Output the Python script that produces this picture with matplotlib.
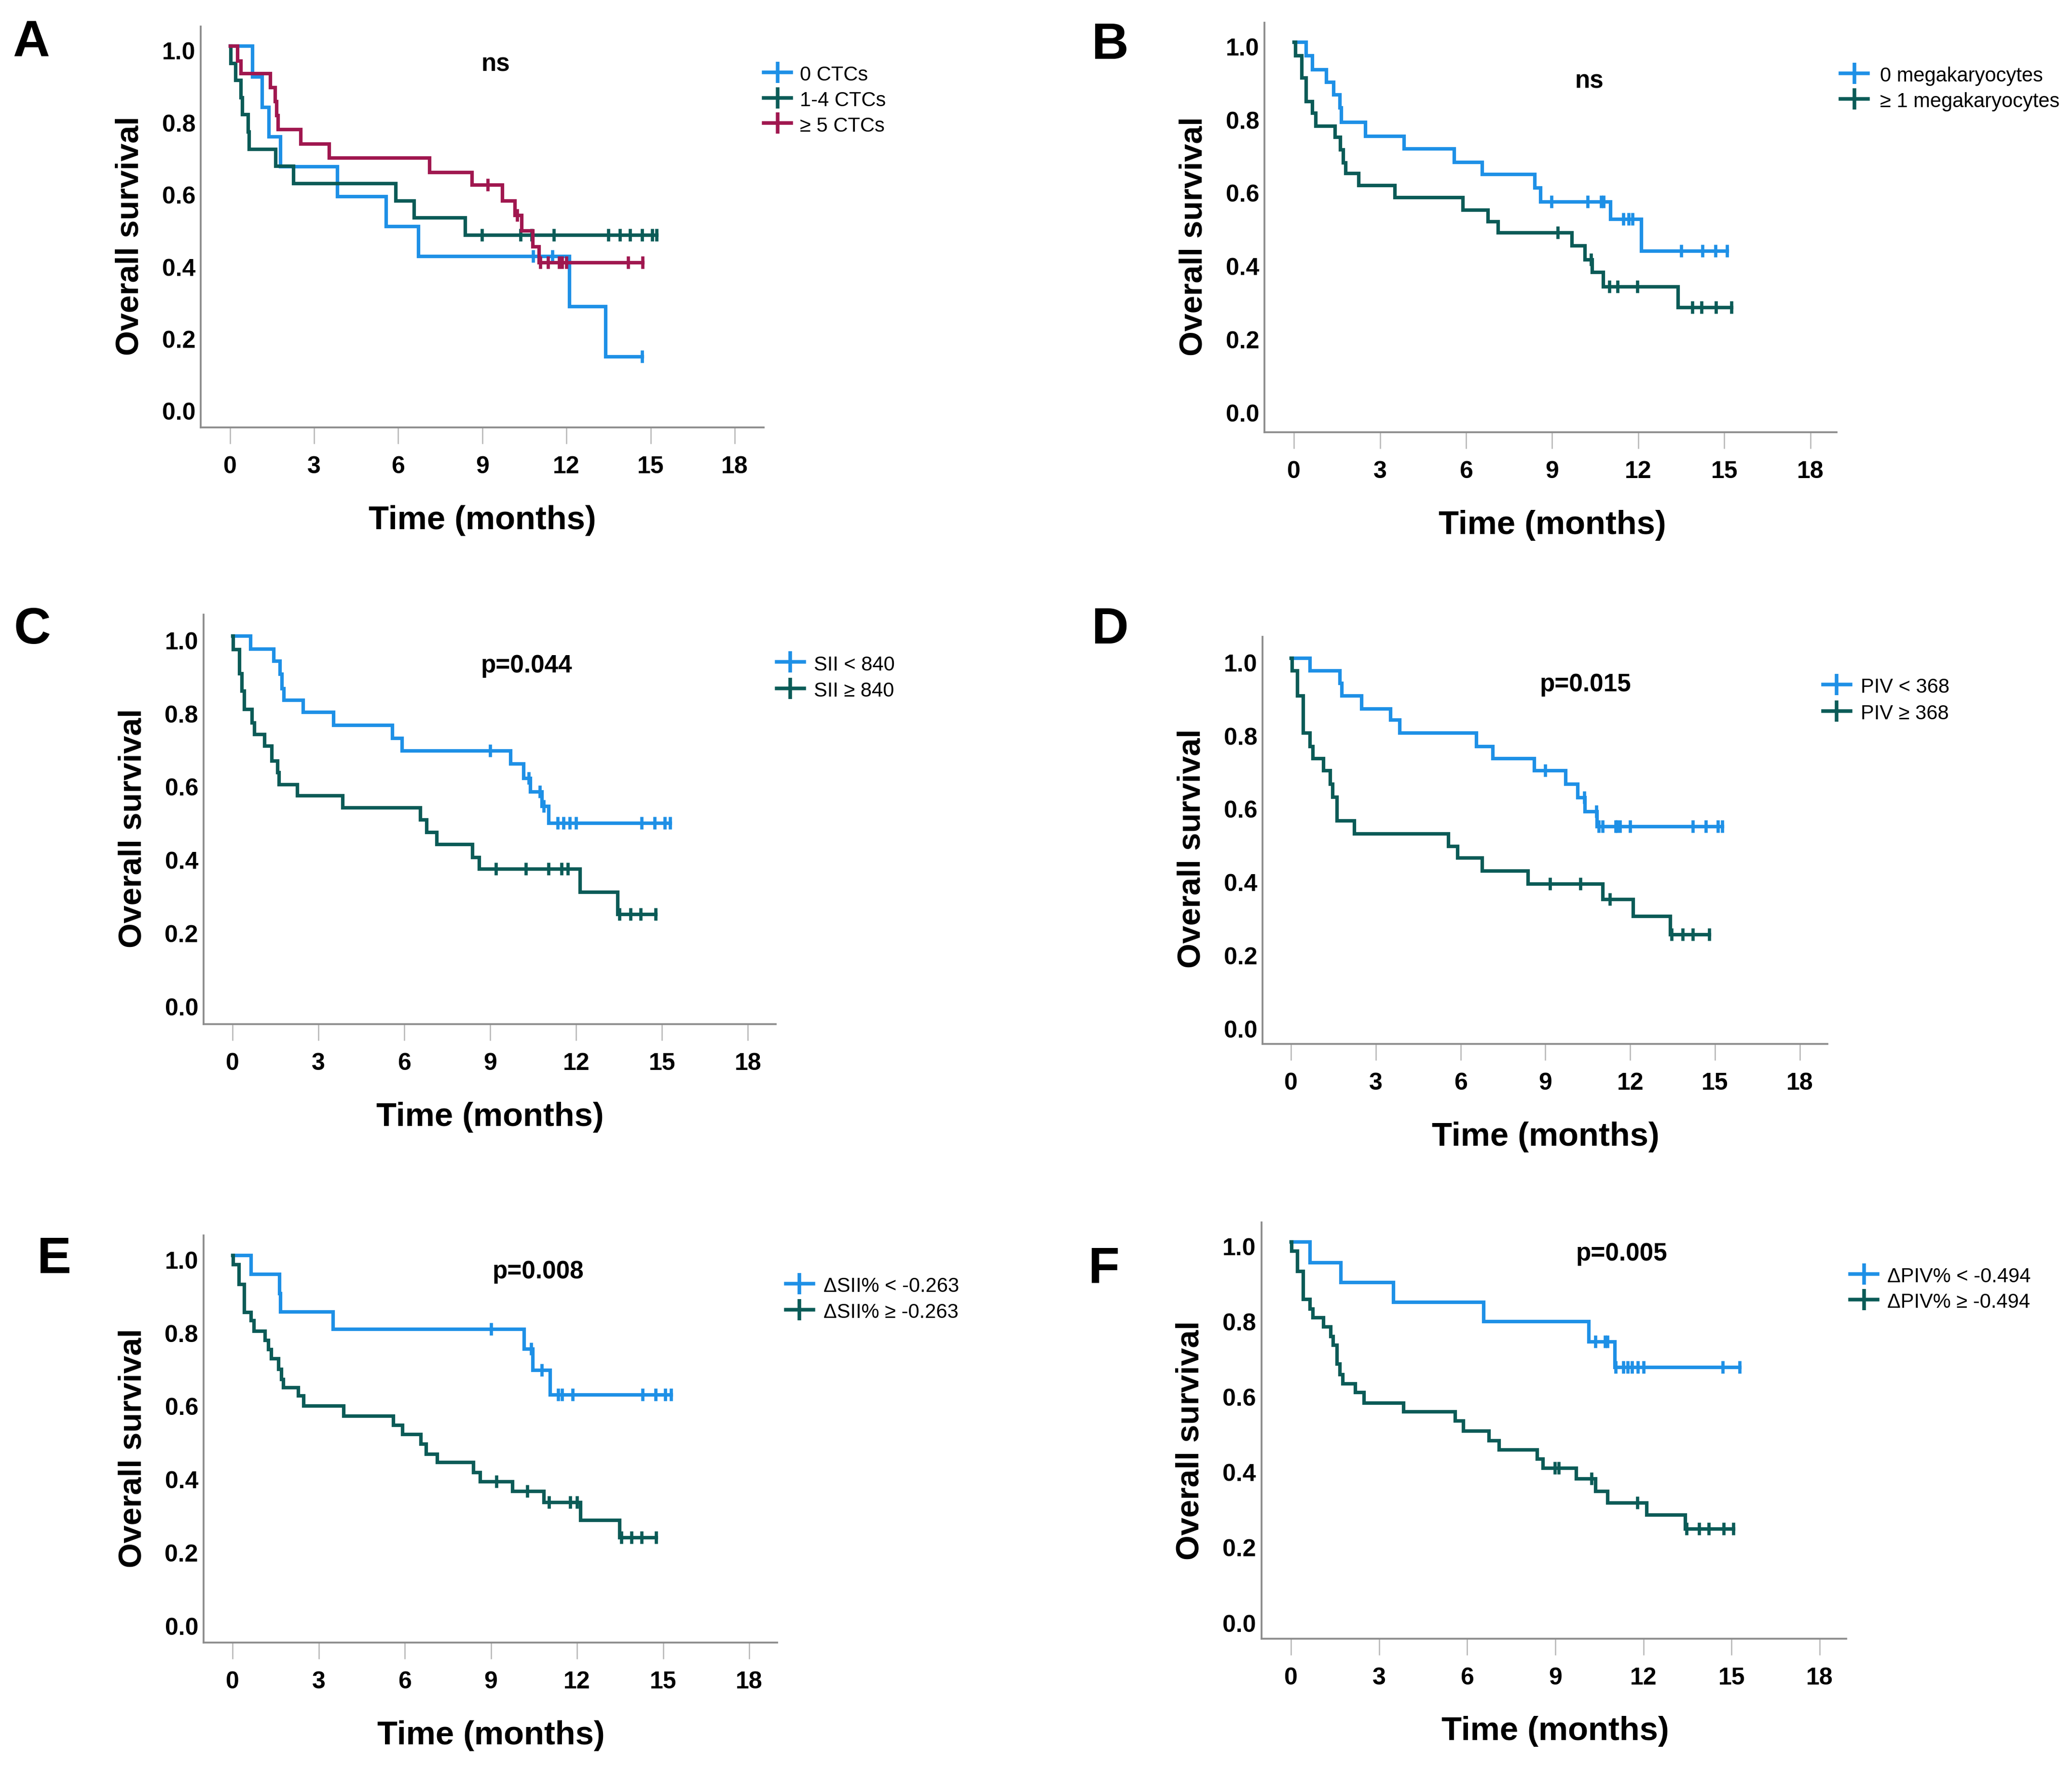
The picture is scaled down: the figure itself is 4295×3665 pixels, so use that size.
import matplotlib
matplotlib.use("Agg")
import matplotlib.pyplot as plt
from matplotlib.lines import Line2D
from matplotlib.transforms import ScaledTranslation
import numpy as np

plt.rcParams['font.family'] = ['Liberation Sans', 'DejaVu Sans']

BLUE = "#1e90e6"
TEAL = "#0b5b57"
RED = "#a0174f"

# ---- data: drop times, survival after each drop, censor times ----
# A: CTC count
a_ctc0_t = [0.79, 1.14, 1.38, 1.80, 3.83, 5.56, 6.72, 12.1, 13.39]
a_ctc0_s = [0.915, 0.83, 0.748, 0.665, 0.582, 0.50, 0.416, 0.277, 0.138]
a_ctc0_c = [10.81, 11.5, 14.7]
a_ctc14_t = [0.03, 0.2, 0.38, 0.44, 0.65, 0.68, 1.63, 2.26, 5.9, 6.56, 8.39]
a_ctc14_s = [0.952, 0.905, 0.857, 0.81, 0.762, 0.714, 0.667, 0.619, 0.571, 0.524, 0.476]
a_ctc14_c = [8.99, 10.37, 10.76, 11.55, 13.5, 13.9, 14.26, 14.7, 15.06, 15.22]
a_ctc5_t = [0.26, 0.39, 1.44, 1.6, 1.66, 1.71, 2.52, 3.53, 7.11, 8.62, 9.71, 10.16, 10.39, 10.79, 11.02]
a_ctc5_s = [0.959, 0.924, 0.885, 0.846, 0.807, 0.768, 0.728, 0.689, 0.65, 0.614, 0.571, 0.531, 0.488, 0.444, 0.399]
a_ctc5_c = [9.19, 10.24, 11.06, 11.34, 11.74, 11.84, 12.0, 14.2, 14.72]
a_labels = ["0 CTCs", "1-4 CTCs", "≥ 5 CTCs"]

# B: megakaryocytes
b_mk0_t = [0.42, 0.64, 1.13, 1.37, 1.6, 1.65, 2.48, 3.83, 5.58, 6.55, 8.39, 8.59, 11.03, 12.1]
b_mk0_s = [0.963, 0.924, 0.89, 0.856, 0.82, 0.781, 0.743, 0.709, 0.671, 0.638, 0.602, 0.564, 0.516, 0.429]
b_mk0_c = [8.97, 10.23, 10.71, 10.8, 11.48, 11.67, 11.8, 13.5, 14.24, 14.69, 15.1]
b_mk1_t = [0.04, 0.27, 0.42, 0.64, 0.75, 1.43, 1.61, 1.71, 1.8, 2.25, 3.51, 5.89, 6.75, 7.11, 9.69, 10.13, 10.39, 10.77, 13.38]
b_mk1_s = [0.963, 0.902, 0.838, 0.806, 0.77, 0.74, 0.706, 0.67, 0.641, 0.608, 0.576, 0.541, 0.509, 0.479, 0.443, 0.406, 0.371, 0.332, 0.275]
b_mk1_c = [9.19, 10.35, 10.99, 11.28, 11.97, 13.89, 14.2, 14.71, 15.24]
b_labels = ["0 megakaryocytes", "≥ 1 megakaryocytes"]

# C: SII
c_lo_t = [0.62, 1.43, 1.65, 1.72, 1.78, 2.46, 3.52, 5.58, 5.91, 9.71, 10.16, 10.4, 10.8, 11.03]
c_lo_s = [0.964, 0.931, 0.895, 0.856, 0.825, 0.791, 0.756, 0.721, 0.686, 0.651, 0.611, 0.574, 0.534, 0.489]
c_lo_c = [9.0, 10.35, 10.74, 10.86, 11.36, 11.55, 11.77, 12.0, 14.29, 14.74, 15.1, 15.28]
c_hi_t = [0.01, 0.23, 0.32, 0.40, 0.68, 0.75, 1.11, 1.37, 1.56, 1.62, 2.26, 3.84, 6.55, 6.77, 7.13, 8.38, 8.61, 12.13, 13.45]
c_hi_s = [0.963, 0.897, 0.849, 0.799, 0.763, 0.731, 0.699, 0.659, 0.627, 0.594, 0.563, 0.531, 0.497, 0.463, 0.431, 0.395, 0.363, 0.3, 0.239]
c_hi_c = [9.19, 10.25, 11.04, 11.49, 11.71, 13.51, 13.9, 14.25, 14.78]
c_labels = ["SII < 840", "SII ≥ 840"]

# D: PIV
d_lo_t = [0.67, 1.72, 1.79, 2.49, 3.51, 3.84, 6.55, 7.13, 8.6, 9.71, 10.14, 10.4, 10.82]
d_lo_s = [0.966, 0.931, 0.897, 0.861, 0.831, 0.795, 0.759, 0.725, 0.693, 0.656, 0.619, 0.581, 0.54]
d_lo_c = [8.99, 10.37, 10.8, 10.89, 11.02, 11.48, 11.54, 11.64, 12.0, 14.22, 14.67, 15.1, 15.26]
d_hi_t = [0.03, 0.22, 0.42, 0.67, 0.77, 1.14, 1.38, 1.46, 1.62, 2.23, 5.56, 5.89, 6.75, 8.37, 11.02, 12.1, 13.41]
d_hi_s = [0.966, 0.897, 0.795, 0.759, 0.725, 0.693, 0.656, 0.62, 0.556, 0.52, 0.486, 0.454, 0.418, 0.383, 0.341, 0.295, 0.245]
d_hi_c = [9.16, 10.24, 11.28, 13.47, 13.85, 14.22, 14.8]
d_labels = ["PIV < 368", "PIV ≥ 368"]

# E: delta SII%
e_lo_t = [0.64, 1.63, 1.67, 3.5, 10.15, 10.45, 11.06]
e_lo_s = [0.948, 0.896, 0.846, 0.798, 0.744, 0.686, 0.618]
e_lo_c = [9.01, 10.4, 10.77, 11.35, 11.48, 11.84, 14.29, 14.74, 15.08, 15.28]
e_hi_t = [0.02, 0.22, 0.41, 0.63, 0.73, 1.12, 1.25, 1.35, 1.6, 1.7, 1.76, 2.28, 2.47, 3.86, 5.6, 5.91,
          6.55, 6.74, 7.13, 8.39, 8.62, 9.74, 10.84, 12.12, 13.47]
e_hi_s = [0.975, 0.921, 0.844, 0.821, 0.793, 0.768, 0.743, 0.718, 0.689, 0.661, 0.639, 0.616, 0.588, 0.561,
          0.536, 0.511, 0.484, 0.457, 0.434, 0.407, 0.381, 0.355, 0.325, 0.276, 0.229]
e_hi_c = [9.2, 10.26, 11.03, 11.76, 11.99, 13.54, 13.9, 14.25, 14.76]
e_labels = ["ΔSII% < -0.263", "ΔSII% ≥ -0.263"]

# F: delta PIV%
f_lo_t = [0.64, 1.69, 3.48, 6.55, 10.14, 11.02]
f_lo_s = [0.944, 0.892, 0.84, 0.788, 0.734, 0.667]
f_lo_c = [10.36, 10.7, 10.78, 11.06, 11.31, 11.46, 11.62, 11.81, 12.0, 14.7, 15.27]
f_hi_t = [0.01, 0.21, 0.4, 0.64, 0.74, 1.09, 1.35, 1.43, 1.56, 1.65, 1.75, 2.19, 2.47, 3.82, 5.58, 5.86,
          6.74, 7.07, 8.38, 8.57, 9.71, 10.36, 10.78, 12.1, 13.42]
f_hi_s = [0.975, 0.922, 0.847, 0.822, 0.799, 0.774, 0.748, 0.725, 0.675, 0.647, 0.623, 0.6, 0.572, 0.549,
          0.524, 0.498, 0.472, 0.447, 0.423, 0.399, 0.371, 0.338, 0.306, 0.274, 0.238]
f_hi_c = [8.98, 9.11, 10.24, 11.79, 13.47, 13.89, 14.23, 14.74, 15.06]
f_labels = ["ΔPIV% < -0.494", "ΔPIV% ≥ -0.494"]

stat_texts = ["ns", "ns", "p=0.044", "p=0.015", "p=0.008", "p=0.005"]
panel_letters = ["A", "B", "C", "D", "E", "F"]
x_ticks = [0, 3, 6, 9, 12, 15, 18]
y_ticks = [0.0, 0.2, 0.4, 0.6, 0.8, 1.0]

panels = [
    ([(a_ctc0_t, a_ctc0_s, a_ctc0_c), (a_ctc14_t, a_ctc14_s, a_ctc14_c), (a_ctc5_t, a_ctc5_s, a_ctc5_c)],
     [BLUE, TEAL, RED], a_labels),
    ([(b_mk0_t, b_mk0_s, b_mk0_c), (b_mk1_t, b_mk1_s, b_mk1_c)], [BLUE, TEAL], b_labels),
    ([(c_lo_t, c_lo_s, c_lo_c), (c_hi_t, c_hi_s, c_hi_c)], [BLUE, TEAL], c_labels),
    ([(d_lo_t, d_lo_s, d_lo_c), (d_hi_t, d_hi_s, d_hi_c)], [BLUE, TEAL], d_labels),
    ([(e_lo_t, e_lo_s, e_lo_c), (e_hi_t, e_hi_s, e_hi_c)], [BLUE, TEAL], e_labels),
    ([(f_lo_t, f_lo_s, f_lo_c), (f_hi_t, f_hi_s, f_hi_c)], [BLUE, TEAL], f_labels),
]

# ---- layout (reference pixels on a 1568 x 1338 grid) ----
W, H = 1568.0, 1338.0
PT = 4295 / 300 * 72 / W  # points per grid pixel

# left, right, top, bottom spine, x of t=0, x of t=18, y of S=1, px per unit S
boxes = [
    (152.0, 578, 20, 323.5, 174.0, 556.0, 34.7, 272.8),
    (957.0, 1390, 17, 327, 979.2, 1370.0, 31.7, 277),
    (154.0, 587, 465, 775, 176.0, 566.0, 481.1, 277),
    (955.4, 1383, 482, 790, 977.0, 1362.0, 497.9, 277),
    (154.0, 588, 935, 1243, 176.0, 567.0, 949.8, 277),
    (954.5, 1397, 925, 1240, 977.0, 1377.0, 939.6, 285),
]
ylab_y = [178.4, 179, 627, 642, 1096, 1090]
letters_pos = [(23.7, 42.8), (840, 44.5), (24.5, 487), (840, 487), (41, 963.5), (835.5, 971)]
stat_pos = [(375, 53.9), (1202.8, 66.7), (398.3, 508.8), (1199.6, 523.1), (407.3, 967.6), (1227.3, 954.1)]
# handle centre x, first row y, row gap, text x
legend_pos = [(588.4, 54.8, 19.2, 605.4), (1403.2, 55.4, 19.4, 1422.7), (598, 501, 20, 616),
              (1390, 518, 20, 1408), (605.1, 971.5, 19.5, 623.1), (1410.5, 964.2, 19.4, 1428.2)]

fig = plt.figure(figsize=(4295 / 300, 3665 / 300), dpi=300)


def km_curve(ax, times, surv, cens, color):
    t = np.concatenate([[0.0], times])
    s = np.concatenate([[1.0], surv])
    end = max(max(cens), t[-1])
    ax.step(np.append(t, end), np.append(s, s[-1]), where="post", color=color, lw=1.75,
            solid_joinstyle="miter")
    idx = np.searchsorted(times, cens, side="right")
    ax.plot(cens, s[idx], ls="none", marker="|", ms=6.2, mew=1.6, color=color)


for i, (curves, colors, labels) in enumerate(panels):
    L, R, T, B, x0, x18, y1, unit = boxes[i]
    ax = fig.add_axes([L / W, 1 - B / H, (R - L) / W, (B - T) / H])
    ppm = (x18 - x0) / 18
    ax.set_xlim((L - x0) / ppm, (R - x0) / ppm)
    ax.set_ylim(1 - (B - y1) / unit, 1 - (T - y1) / unit)

    for (tt, ss, cc), col in zip(curves, colors):
        km_curve(ax, tt, ss, cc, col)

    for side in ["top", "right"]:
        ax.spines[side].set_visible(False)
    for side in ["left", "bottom"]:
        ax.spines[side].set_color("#8c8c8c")
        ax.spines[side].set_linewidth(0.9)

    ax.tick_params(axis="x", length=8.2, width=0.6, color="#b5b5b5", pad=6.0)
    ax.tick_params(axis="y", length=0, pad=2.6)
    ax.set_xticks(x_ticks, labels=[str(v) for v in x_ticks], fontsize=12, fontweight="bold")
    ax.set_yticks(y_ticks, labels=[f"{v:.1f}" for v in y_ticks], fontsize=12, fontweight="bold")
    shift = ScaledTranslation(0, -3.7 * PT / 72, fig.dpi_scale_trans)
    for lab in ax.get_yticklabels():
        lab.set_transform(lab.get_transform() + shift)

    xl = ax.set_xlabel("Time (months)", fontsize=16.5, fontweight="bold")
    xl.set_va("baseline")
    xlim = ax.get_xlim()
    ax.xaxis.set_label_coords((9 - xlim[0]) / (xlim[1] - xlim[0]), -(77.0) / (B - T))

    yl = ax.set_ylabel("Overall survival", fontsize=16, fontweight="bold")
    yl.set_rotation_mode("anchor")
    yl.set_va("baseline")
    yl.set_ha("center")
    ax.yaxis.set_label_coords(-(47.3) / (R - L), (B - ylab_y[i]) / (B - T))

    lx, ly = letters_pos[i]
    fig.text(lx / W, 1 - ly / H, panel_letters[i], fontsize=25.5, fontweight="bold",
             ha="center", va="baseline")
    sx, sy = stat_pos[i]
    fig.text(sx / W, 1 - sy / H, stat_texts[i], fontsize=12.3, fontweight="bold",
             ha="center", va="baseline")

    hx, hy, gap, tx = legend_pos[i]
    for k, (lab, col) in enumerate(zip(labels, colors)):
        yy = hy + k * gap
        fx, fy = hx / W, 1 - yy / H
        half = 10.4 / W
        fig.add_artist(Line2D([fx - half, fx + half], [fy, fy], color=col, lw=1.8,
                              transform=fig.transFigure))
        fig.add_artist(Line2D([fx], [fy], marker="|", ms=10.4, mew=1.8, color=col,
                              transform=fig.transFigure))
        fig.text(tx / W, 1 - (yy + 6.3) / H, lab, fontsize=10, ha="left", va="baseline")

fig.savefig("out.png", dpi=300, facecolor="white")
